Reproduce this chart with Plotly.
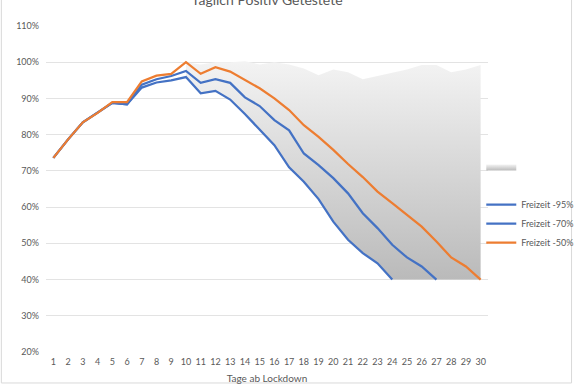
import plotly.graph_objects as go

days = list(range(1, 31))
orange_50 = [73.6, 78.7, 83.4, 86.0, 89.0, 89.0, 94.7, 96.3, 96.8, 100.0, 96.8, 98.6, 97.4, 95.0, 92.8,
             90.0, 86.8, 82.6, 79.4, 75.8, 71.9, 68.3, 64.3, 61.1, 57.8, 54.6, 50.5, 46.1, 43.6, 40.0]
blue_70 = [73.6, 78.7, 83.4, 86.0, 88.8, 88.4, 93.8, 95.3, 96.2, 97.6, 94.3, 95.3, 94.3, 90.3, 87.9,
           84.0, 81.2, 74.8, 71.6, 68.0, 63.8, 58.3, 54.2, 49.6, 46.1, 43.6, 40.0, None, None, None]
blue_95 = [73.6, 78.7, 83.4, 86.0, 88.8, 88.4, 93.0, 94.4, 95.0, 95.9, 91.4, 92.1, 89.7, 85.7, 81.5,
           77.1, 71.0, 67.0, 62.2, 56.0, 51.0, 47.3, 44.5, 40.0, None, None, None, None, None, None]
band_days = list(range(10, 31))
band_top = [100.0, 99.4, 100.0, 100.0, 100.3, 99.4, 100.0, 99.4, 98.3, 96.4, 98.0, 97.2, 95.3, 96.2,
            97.2, 98.0, 99.2, 99.2, 97.2, 98.0, 99.2]
band_base = [95.9, 91.4, 92.1, 89.7, 85.7, 81.5, 77.1, 71.0, 67.0, 62.2, 56.0, 51.0, 47.3, 44.5,
             40.0, 40.0, 40.0, 40.0, 40.0, 40.0, 40.0]
y_ticks = list(range(20, 111, 10))

FONT = "Lato, 'Open Sans', sans-serif"
GREY_TXT = "#595959"

fig = go.Figure()
fig.add_trace(go.Scatter(x=band_days, y=band_base, mode="lines", line=dict(width=0, color="rgba(255,255,255,0)"),
                         name=" ", legendrank=2, showlegend=True, hoverinfo="skip"))
fig.add_trace(go.Scatter(x=band_days, y=band_top, mode="lines", line=dict(width=0, color="#bfbfbf"),
                         fill="tonexty", fillcolor="#d9d9d9",
                         fillgradient=dict(type="vertical", start=40, stop=100,
                                           colorscale=[[0, "#bababa"], [1, "#f3f3f3"]]),
                         name=" ", legendrank=1, showlegend=True, hoverinfo="skip"))
fig.add_trace(go.Scatter(x=days, y=blue_95, mode="lines", line=dict(color="#4472C4", width=2.25),
                         name="Freizeit -95%", legendrank=3))
fig.add_trace(go.Scatter(x=days, y=blue_70, mode="lines", line=dict(color="#4472C4", width=2.25),
                         name="Freizeit -70%", legendrank=4))
fig.add_trace(go.Scatter(x=days, y=orange_50, mode="lines", line=dict(color="#ED7D31", width=2.25),
                         name="Freizeit -50%", legendrank=5))

fig.update_layout(
    width=575, height=384,
    margin=dict(l=46, r=87, t=26, b=32, autoexpand=False),
    paper_bgcolor="white", plot_bgcolor="white",
    font=dict(family=FONT, color=GREY_TXT, size=9),
    title=dict(text="Täglich Positiv Getestete", x=0.5, xanchor="center", xref="paper",
               y=1.0, yref="container", yanchor="middle", font=dict(size=14, color=GREY_TXT)),
    xaxis=dict(range=[0.5, 30.5], tickmode="array", tickvals=days, ticktext=[str(d) for d in days],
               showgrid=False, zeroline=False, showline=False, ticks="", automargin=False,
               ticklabelstandoff=3,
               title=dict(text="Tage ab Lockdown", font=dict(size=10, color=GREY_TXT), standoff=9)),
    yaxis=dict(range=[20, 110], tickmode="array", tickvals=y_ticks, ticktext=[f"{v}%" for v in y_ticks],
               showgrid=True, gridcolor="#e3e3e3", gridwidth=1, zeroline=False, showline=False, ticks="",
               ticklabelstandoff=6, automargin=False),
    legend=dict(xref="container", yref="container", x=0.837, y=1 - 152 / 384, xanchor="left", yanchor="top",
                font=dict(size=9, color=GREY_TXT), traceorder="normal",
                bgcolor="rgba(0,0,0,0)", tracegroupgap=0, itemwidth=30),
    showlegend=True,
)
fig.add_shape(type="rect", xref="paper", yref="paper", x0=-0.101, x1=1.189, y0=-0.095, y1=1.1,
              line=dict(color="#d9d9d9", width=1), fillcolor="rgba(0,0,0,0)", layer="below")
fig.write_html("out.html", config={"displayModeBar": False},
               post_script="document.body.style.margin='0';document.body.style.overflow='hidden';")
